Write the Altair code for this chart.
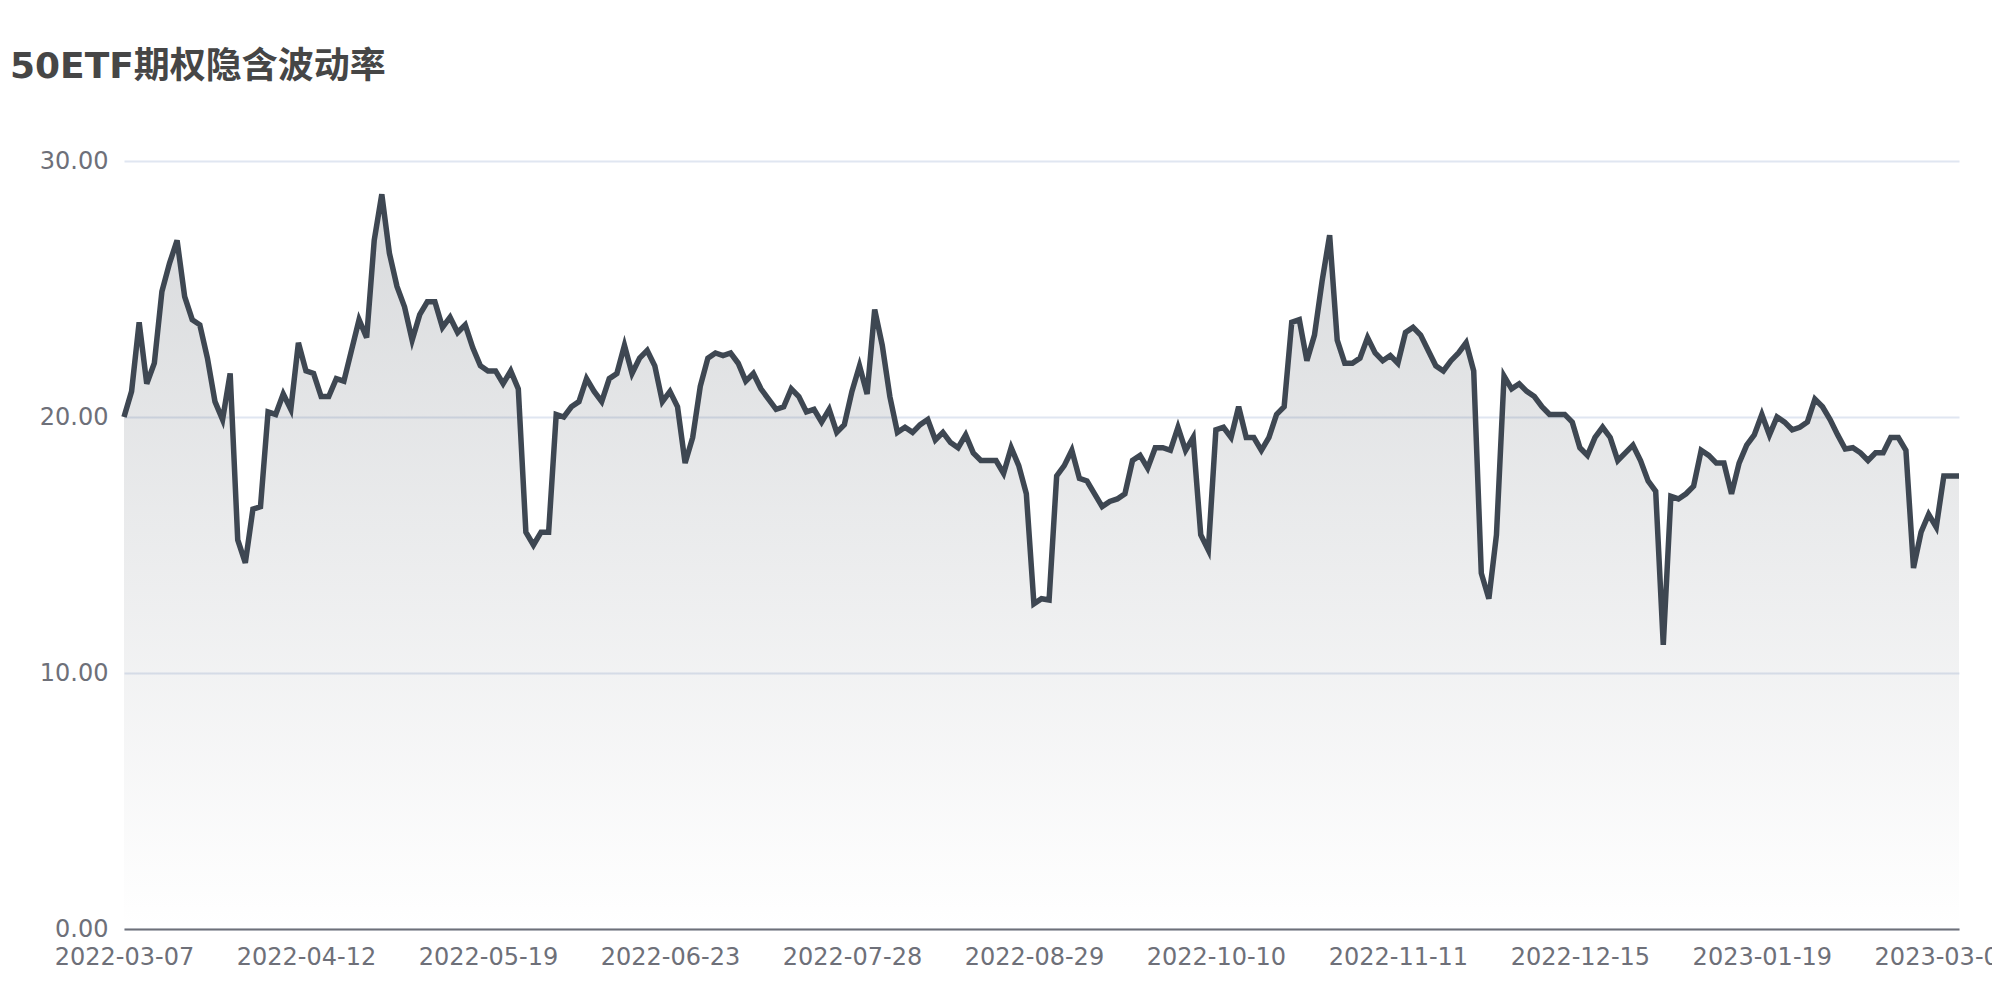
import altair as alt
import pandas as pd

title_text = "50ETF期权隐含波动率"
tick_labels = ["2022-03-07", "2022-04-12", "2022-05-19", "2022-06-23", "2022-07-28",
               "2022-08-29", "2022-10-10", "2022-11-11", "2022-12-15", "2023-01-19",
               "2023-03-01"]
tick_step = 24
y_ticks = [0, 10, 20, 30]

iv_values = [
    20.0, 21.0, 23.7, 21.3, 22.1, 24.9, 26.0, 26.9, 24.7, 23.8,
    23.6, 22.3, 20.6, 19.9, 21.7, 15.2, 14.3, 16.4, 16.5, 20.2,
    20.1, 20.9, 20.3, 22.9, 21.8, 21.7, 20.8, 20.8, 21.5, 21.4,
    22.6, 23.8, 23.1, 26.9, 28.7, 26.4, 25.1, 24.3, 23.0, 24.0,
    24.5, 24.5, 23.5, 23.9, 23.3, 23.6, 22.7, 22.0, 21.8,
    21.8, 21.3, 21.8, 21.1, 15.5, 15.0, 15.5, 15.5, 20.1, 20.0,
    20.4, 20.6, 21.5, 21.0, 20.6, 21.5, 21.7, 22.8, 21.7, 22.3,
    22.6, 22.0, 20.6, 21.0, 20.4, 18.2, 19.2, 21.2, 22.3, 22.5,
    22.4, 22.5, 22.1, 21.4, 21.7, 21.1, 20.7, 20.3, 20.4, 21.1,
    20.8, 20.2, 20.3, 19.8, 20.3, 19.4, 19.7, 21.0, 22.0,
    20.9, 24.2, 22.8, 20.8, 19.4, 19.6, 19.4, 19.7, 19.9, 19.1,
    19.4, 19.0, 18.8, 19.3, 18.6, 18.3, 18.3, 18.3, 17.8, 18.8,
    18.1, 17.0, 12.7, 12.9, 12.85, 17.7, 18.1, 18.7, 17.6, 17.5,
    17.0, 16.5, 16.7, 16.8, 17.0, 18.3, 18.5, 18.0, 18.8, 18.8,
    18.7, 19.6, 18.7, 19.2, 15.4, 14.8, 19.5, 19.6, 19.2,
    20.4, 19.2, 19.2, 18.7, 19.2, 20.1, 20.4, 23.7, 23.8, 22.2,
    23.2, 25.3, 27.1, 23.0, 22.1, 22.1, 22.3, 23.1, 22.5, 22.2,
    22.4, 22.1, 23.3, 23.5, 23.2, 22.6, 22.0, 21.8, 22.2, 22.5,
    22.9, 21.8, 13.9, 12.9, 15.4, 21.6, 21.1, 21.3, 21.0, 20.8,
    20.4, 20.1, 20.1, 20.1, 19.8, 18.8, 18.5, 19.2, 19.6,
    19.2, 18.3, 18.6, 18.9, 18.3, 17.5, 17.1, 11.1, 16.9, 16.8,
    17.0, 17.3, 18.7, 18.5, 18.2, 18.2, 17.0, 18.2, 18.9, 19.3,
    20.1, 19.3, 20.0, 19.8, 19.5, 19.6, 19.8, 20.7, 20.4, 19.9,
    19.3, 18.75, 18.8, 18.6, 18.3, 18.6, 18.6, 19.2, 19.2, 18.7,
    14.1, 15.5, 16.2, 15.7, 17.7, 17.7, 17.7,
]

df = pd.DataFrame({"idx": list(range(len(iv_values))), "iv": iv_values})

label_expr = "[" + ",".join(f"'{t}'" for t in tick_labels) + f"][round(datum.value/{tick_step})]"
font = "DejaVu Sans, Noto Sans CJK SC"
axis_color = "#6E7079"

x_enc = alt.X(
    "idx:Q",
    scale=alt.Scale(domain=[0, len(iv_values) - 1], nice=False, zero=False),
    axis=alt.Axis(
        values=[i * tick_step for i in range(len(tick_labels))],
        labelExpr=label_expr,
        title=None,
        grid=False,
        domainColor=axis_color,
        domainWidth=2,
        ticks=False,
        labelColor=axis_color,
        labelFontSize=24,
        labelFont=font,
        labelPadding=16,
        labelFlush=False,
        labelOverlap=False,
    ),
)
y_enc = alt.Y(
    "iv:Q",
    scale=alt.Scale(domain=[0, 30], nice=False, zero=True),
    axis=alt.Axis(
        values=y_ticks,
        format=".2f",
        title=None,
        domain=False,
        ticks=False,
        gridColor="#E0E6F1",
        gridWidth=2,
        labelColor=axis_color,
        labelFontSize=24,
        labelFont=font,
        labelPadding=16,
    ),
)

base = alt.Chart(df)
area = base.mark_area(
    color=alt.Gradient(
        gradient="linear",
        stops=[
            alt.GradientStop(color="rgba(62,71,82,0.20)", offset=0),
            alt.GradientStop(color="rgba(62,71,82,0.0)", offset=1),
        ],
        x1=1, x2=1, y1=0, y2=1,
    )
).encode(x=x_enc, y=y_enc)
line = base.mark_line(color="#3E4752", strokeWidth=5.5).encode(x=x_enc, y=y_enc)

chart = (
    alt.layer(area, line)
    .properties(
        width=1835,
        height=768,
        background="white",
        autosize=alt.AutoSizeParams(type="none"),
        padding={"left": 116, "top": 153, "right": 33, "bottom": 63},
        title=alt.TitleParams(
            text=title_text,
            anchor="start",
            frame="group",
            fontSize=36,
            fontWeight="bold",
            color="#464646",
            font=font,
            dx=-114,
            offset=63,
        ),
    )
    .configure_view(strokeWidth=0, stroke="transparent")
)

chart.save("out.html", embed_options={"renderer": "svg", "actions": False})
